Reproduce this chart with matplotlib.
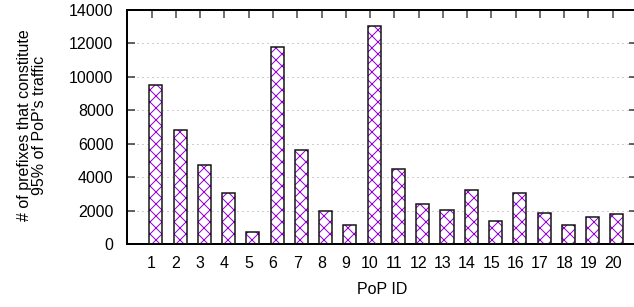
import matplotlib
matplotlib.use("Agg")
import matplotlib.pyplot as plt
import numpy as np

pop_ids = [str(i) for i in range(1, 21)]
prefixes = [9500, 6800, 4720, 3080, 720, 11770, 5620, 1990, 1130, 13040,
            4480, 2410, 2070, 3230, 1390, 3060, 1850, 1130, 1650, 1790]
yticks = [0, 2000, 4000, 6000, 8000, 10000, 12000, 14000]

plt.rcParams['font.family'] = ['Liberation Sans', 'DejaVu Sans']
plt.rcParams['hatch.linewidth'] = 1.0

W, H = 634, 307
DPI = 72
fig = plt.figure(figsize=(W / DPI, H / DPI), dpi=DPI)
left_px, right_px, top_px, bot_px = 127.4, 637.0, 10.0, 244.3
ax = fig.add_axes([left_px / W, (H - bot_px) / H, (right_px - left_px) / W, (bot_px - top_px) / H])

x = np.arange(1, len(pop_ids) + 1)
off = 0.17
bw = 0.54
ax.bar(x + off, prefixes, width=bw, facecolor='white', edgecolor='#9400d3',
       linewidth=0, hatch='xx', zorder=2)
ax.bar(x + off, prefixes, width=bw, fill=False, edgecolor='#111111',
       linewidth=1.5, zorder=3)

ax.set_xlim(0, 21)
ax.set_ylim(0, 14000)
ax.set_xticks(x)
ax.set_xticklabels(pop_ids)
ax.set_yticks(yticks)
ax.set_yticklabels([str(v) for v in yticks])

for v in yticks[1:-1]:
    ax.axhline(v, color='#a0a0a0', linewidth=1, linestyle=(0, (1, 4)), zorder=1)

ax.tick_params(axis='x', direction='in', top=True, bottom=False, labelbottom=True,
               labeltop=False, length=8, width=1.5, color='#444444', labelsize=16, pad=12)
ax.tick_params(axis='y', direction='in', left=True, right=True, length=8, width=1.5,
               color='#333333', labelsize=16, pad=14)

for s in ax.spines.values():
    s.set_linewidth(2)
    s.set_color('black')

ax.set_xlabel('PoP ID', fontsize=16, labelpad=11)
fig.text(32 / W, (H - 125) / H, "# of prefixes that constitute\n95% of PoP's traffic",
         rotation=90, ha='center', va='center', fontsize=16, linespacing=0.95,
         multialignment='center')

fig.savefig('out.png', dpi=DPI)
